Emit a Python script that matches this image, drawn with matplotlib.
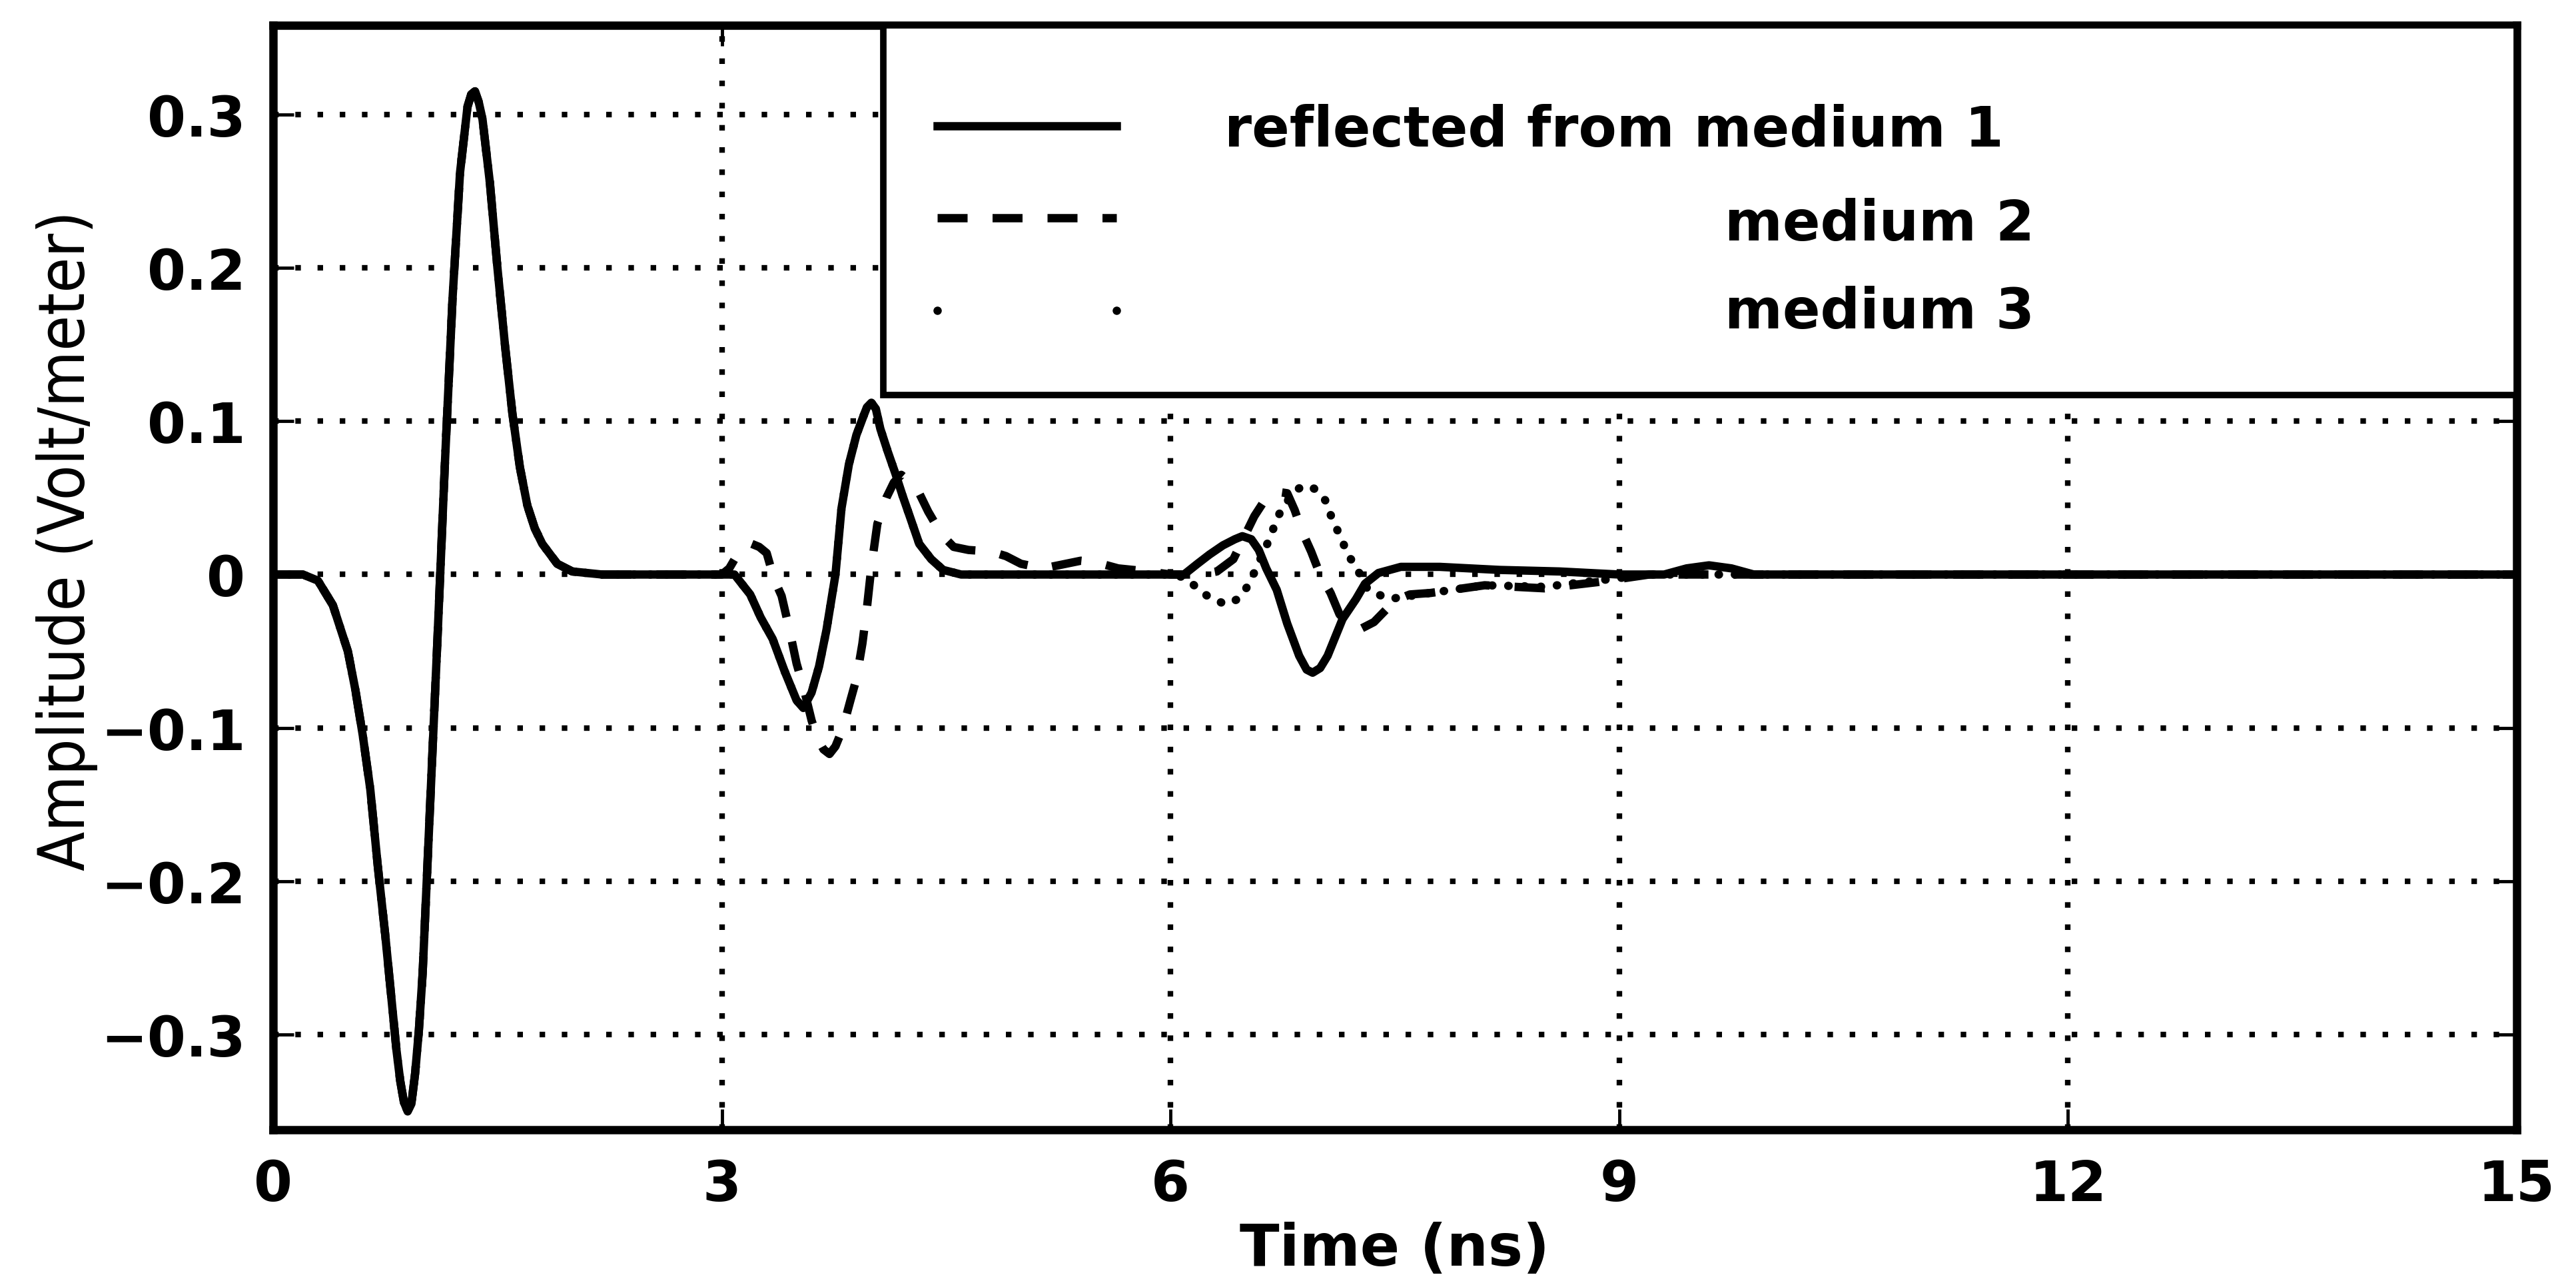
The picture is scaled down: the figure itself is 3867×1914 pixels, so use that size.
import numpy as np
import matplotlib
matplotlib.use("Agg")
import matplotlib.pyplot as plt
from matplotlib import font_manager
from matplotlib.patches import Rectangle

plt.rcParams['font.family'] = 'DejaVu Sans'
plt.rcParams['font.weight'] = 'bold'

# surface reflection, identical for the three media (ns, V/m)
pulse_t = [0.0, 0.2, 0.3, 0.4, 0.5, 0.55, 0.6, 0.65, 0.7, 0.75, 0.8, 0.825,
           0.85, 0.875, 0.9, 0.925, 0.95, 0.975, 1.0, 1.05, 1.1, 1.15, 1.2,
           1.25, 1.3, 1.325, 1.35, 1.375, 1.4, 1.45, 1.5, 1.55, 1.6, 1.65,
           1.7, 1.75, 1.8, 1.9, 2.0, 2.2]
pulse_v = [0.0, 0.0, -0.004, -0.02, -0.05, -0.075, -0.105, -0.14, -0.19,
           -0.235, -0.285, -0.31, -0.33, -0.344, -0.35, -0.345, -0.325,
           -0.297, -0.26, -0.15, -0.04, 0.075, 0.18, 0.262, 0.305, 0.313,
           0.315, 0.308, 0.297, 0.255, 0.2, 0.15, 0.105, 0.07, 0.045, 0.03,
           0.02, 0.007, 0.002, 0.0]

# second echo, medium 1 (medium 3 follows the same trace here)
m1_echo_t = [3.0, 3.085, 3.19, 3.26, 3.34, 3.42, 3.5, 3.545, 3.6, 3.65, 3.7,
             3.76, 3.8, 3.85, 3.9, 3.95, 3.97, 4.0, 4.03, 4.06, 4.11, 4.16,
             4.21, 4.26, 4.32, 4.4, 4.48, 4.6]
m1_echo_v = [0.0, 0.0, -0.013, -0.028, -0.042, -0.063, -0.082, -0.087,
             -0.077, -0.06, -0.036, 0.0, 0.043, 0.072, 0.091, 0.104, 0.109,
             0.112, 0.108, 0.095, 0.08, 0.066, 0.051, 0.037, 0.02, 0.01,
             0.003, 0.0]

# second echo, medium 2
m2_echo_t = [3.0, 3.05, 3.11, 3.16, 3.2, 3.25, 3.3, 3.35, 3.4, 3.45, 3.5,
             3.55, 3.6, 3.64, 3.68, 3.72, 3.76, 3.81, 3.86, 3.9, 3.94, 3.97,
             4.0, 4.04, 4.1, 4.15, 4.2, 4.26, 4.32, 4.38, 4.44, 4.48, 4.55,
             4.65, 4.8, 4.9, 5.0, 5.15, 5.3, 5.4, 5.5, 5.65, 5.85]
m2_echo_v = [0.0, 0.004, 0.014, 0.019, 0.02, 0.018, 0.014, -0.003, -0.014,
             -0.035, -0.058, -0.075, -0.095, -0.107, -0.114, -0.117, -0.112,
             -0.1, -0.082, -0.068, -0.045, -0.022, 0.005, 0.033, 0.05, 0.06,
             0.065, 0.06, 0.053, 0.041, 0.031, 0.025, 0.018, 0.016, 0.015,
             0.012, 0.007, 0.004, 0.007, 0.009, 0.008, 0.004, 0.002]

# deep echoes and tails
m1_late_t = [6.0, 6.09, 6.18, 6.26, 6.35, 6.43, 6.48, 6.54, 6.59, 6.64, 6.71,
             6.78, 6.86, 6.91, 6.95, 7.0, 7.05, 7.15, 7.24, 7.3, 7.39, 7.54,
             7.8, 8.2, 8.6, 9.0, 9.3, 9.45, 9.6, 9.75, 9.9, 15.0]
m1_late_v = [0.0, 0.0, 0.007, 0.013, 0.019, 0.023, 0.025, 0.023, 0.016,
             0.004, -0.01, -0.032, -0.053, -0.062, -0.064, -0.061, -0.053,
             -0.029, -0.016, -0.006, 0.001, 0.005, 0.005, 0.003, 0.002, 0.0,
             0.0, 0.004, 0.006, 0.004, 0.0, 0.0]

m2_late_t = [6.0, 6.2, 6.31, 6.42, 6.49, 6.56, 6.64, 6.71, 6.78, 6.83, 6.88,
             6.94, 7.0, 7.07, 7.13, 7.2, 7.28, 7.36, 7.42, 7.5, 7.6, 7.74,
             8.1, 8.5, 8.85, 9.2, 15.0]
m2_late_v = [0.0, 0.0, 0.002, 0.01, 0.024, 0.038, 0.05, 0.054, 0.053, 0.042,
             0.028, 0.015, 0.0, -0.012, -0.026, -0.033, -0.035, -0.031,
             -0.025, -0.017, -0.013, -0.012, -0.007, -0.009, -0.005, 0.0, 0.0]

m3_late_t = [6.0, 6.1, 6.18, 6.26, 6.37, 6.45, 6.5, 6.54, 6.6, 6.67, 6.705,
             6.74, 6.79, 6.84, 6.89, 6.96, 7.01, 7.05, 7.07, 7.11, 7.15, 7.18,
             7.24, 7.27, 7.32, 7.46, 7.74, 8.1, 8.5, 8.85, 9.2, 15.0]
m3_late_v = [0.0, -0.002, -0.009, -0.015, -0.0195, -0.016, -0.01, -0.003,
             0.01, 0.025, 0.035, 0.042, 0.049, 0.055, 0.058, 0.056, 0.052,
             0.046, 0.039, 0.03, 0.022, 0.013, 0.006, -0.001, -0.01, -0.016,
             -0.012, -0.007, -0.008, -0.004, 0.0, 0.0]

labels = ['reflected from medium 1', 'medium 2', 'medium 3']
xticks = [0, 3, 6, 9, 12, 15]
yticks = [-0.3, -0.2, -0.1, 0, 0.1, 0.2, 0.3]
ytick_labels = ['\u22120.3', '\u22120.2', '\u22120.1', '0', '0.1', '0.2', '0.3']

t1 = pulse_t + m1_echo_t + m1_late_t
v1 = pulse_v + m1_echo_v + m1_late_v
t2 = pulse_t + m2_echo_t + m2_late_t
v2 = pulse_v + m2_echo_v + m2_late_v
t3 = pulse_t + m1_echo_t + m3_late_t
v3 = pulse_v + m1_echo_v + m3_late_v

fig = plt.figure(figsize=(38.67, 19.15), dpi=100)
ax = fig.add_axes([0.106, 0.1138, 0.871, 0.8658])

lw = 9
dash = (0, (3.6, 3.0))
dot = (0, (0.05, 1.9))
ax.plot(t3, v3, color='k', lw=lw, ls=dot, dash_capstyle='round')
ax.plot(t2, v2, color='k', lw=lw, ls=dash)
ax.plot(t1, v1, color='k', lw=lw, ls='-')

ax.set_xlim(0, 15)
ax.set_ylim(-0.362, 0.358)
ax.set_xticks(xticks)
ax.set_yticks(yticks)
ax.set_yticklabels(ytick_labels)
ax.tick_params(direction='in', length=22, width=3.5, labelsize=60, pad=30,
               top=True, right=True)
ax.grid(True, color='k', ls=(0, (1, 3.0)), lw=6)
for s in ax.spines.values():
    s.set_linewidth(9)

ax.set_xlabel('Time (ns)', fontsize=63, fontweight='bold', labelpad=10)

# narrow face for the vertical label
names = {f.name for f in font_manager.fontManager.ttflist}
if 'Liberation Sans Narrow' in names:
    ylab = ax.set_ylabel('Amplitude (Volt/meter)', family='Liberation Sans Narrow',
                         fontweight='bold', fontsize=80)
else:
    ylab = ax.set_ylabel('Amplitude (Volt/meter)', fontstretch='condensed',
                         fontweight='normal', fontsize=62)
ax.yaxis.set_label_coords(-0.078, 0.534)
fig.canvas.draw()
h = ylab.get_window_extent().height
ylab.set_fontsize(ylab.get_fontsize() * 991.0 / h)

# legend box
ax.add_patch(Rectangle((0.272, 0.665), 0.728, 0.335, transform=ax.transAxes,
                       facecolor='white', edgecolor='k', lw=7, zorder=5))
ax.plot([0.296, 0.376], [0.909, 0.909], transform=ax.transAxes, color='k',
        lw=lw, ls='-', zorder=6)
ax.plot([0.296, 0.376], [0.826, 0.826], transform=ax.transAxes, color='k',
        lw=lw, ls=dash, zorder=6)
ax.plot([0.296, 0.376], [0.742, 0.742], transform=ax.transAxes, color='k',
        ls='none', marker='o', ms=8, zorder=6)
ax.text(0.424, 0.891, labels[0], transform=ax.transAxes, fontsize=60,
        va='baseline', zorder=7)
ax.text(0.647, 0.806, labels[1], transform=ax.transAxes, fontsize=60,
        va='baseline', zorder=7)
ax.text(0.647, 0.726, labels[2], transform=ax.transAxes, fontsize=60,
        va='baseline', zorder=7)

fig.savefig('out.png', dpi=100)
